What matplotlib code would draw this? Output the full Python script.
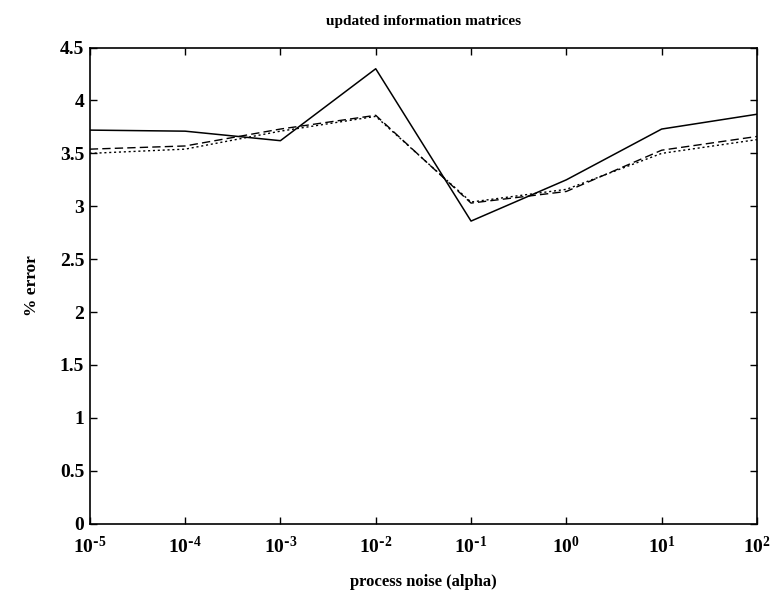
import matplotlib
matplotlib.use("Agg")
import matplotlib.pyplot as plt

alpha = [1e-5, 1e-4, 1e-3, 1e-2, 1e-1, 1e0, 1e1, 1e2]
err_solid = [3.72, 3.71, 3.62, 4.30, 2.86, 3.25, 3.73, 3.87]
err_dashed = [3.54, 3.57, 3.73, 3.86, 3.03, 3.14, 3.53, 3.66]
err_dotted = [3.50, 3.54, 3.71, 3.85, 3.04, 3.16, 3.50, 3.63]
yticks = [0, 0.5, 1, 1.5, 2, 2.5, 3, 3.5, 4, 4.5]
ytick_labels = ["0", "0.5", "1", "1.5", "2", "2.5", "3", "3.5", "4", "4.5"]

plt.rcParams["font.family"] = ["Liberation Serif", "DejaVu Serif"]
plt.rcParams["font.weight"] = "bold"
plt.rcParams["axes.unicode_minus"] = False

fig = plt.figure(figsize=(7.74, 5.95), dpi=100)
ax = fig.add_axes([0.116, 0.12, 0.862, 0.8])

ax.plot(alpha, err_solid, color="black", lw=1.1, ls="-")
ax.plot(alpha, err_dashed, color="black", lw=1.0, ls=(0, (6, 3)))
ax.plot(alpha, err_dotted, color="black", lw=1.0, ls=(0, (1.5, 2)))

ax.set_xscale("log")
ax.set_xlim(1e-5, 1e2)
ax.set_ylim(0, 4.5)
ax.set_xticks(alpha)
# superscript exponents with a plain hyphen, as in the original print
ax.set_xticklabels([r"$\mathregular{10^{%s}}$" % (str(e).replace("-", r"\text{-}"))
                    for e in range(-5, 3)])
ax.minorticks_off()
ax.set_yticks(yticks)
ax.set_yticklabels(ytick_labels)

ax.tick_params(direction="in", length=5, width=1, top=True, right=True,
               labelsize=14)
ax.tick_params(axis="x", pad=9)
ax.tick_params(axis="y", pad=4)
for s in ax.spines.values():
    s.set_linewidth(1.2)

ax.set_title("updated information matrices", fontsize=11, fontweight="bold", pad=16)
ax.set_xlabel("process noise (alpha)", fontsize=12, fontweight="bold", labelpad=12)
ax.set_ylabel("% error", fontsize=12.5, fontweight="bold", labelpad=14)

fig.savefig("out.png", dpi=100)
